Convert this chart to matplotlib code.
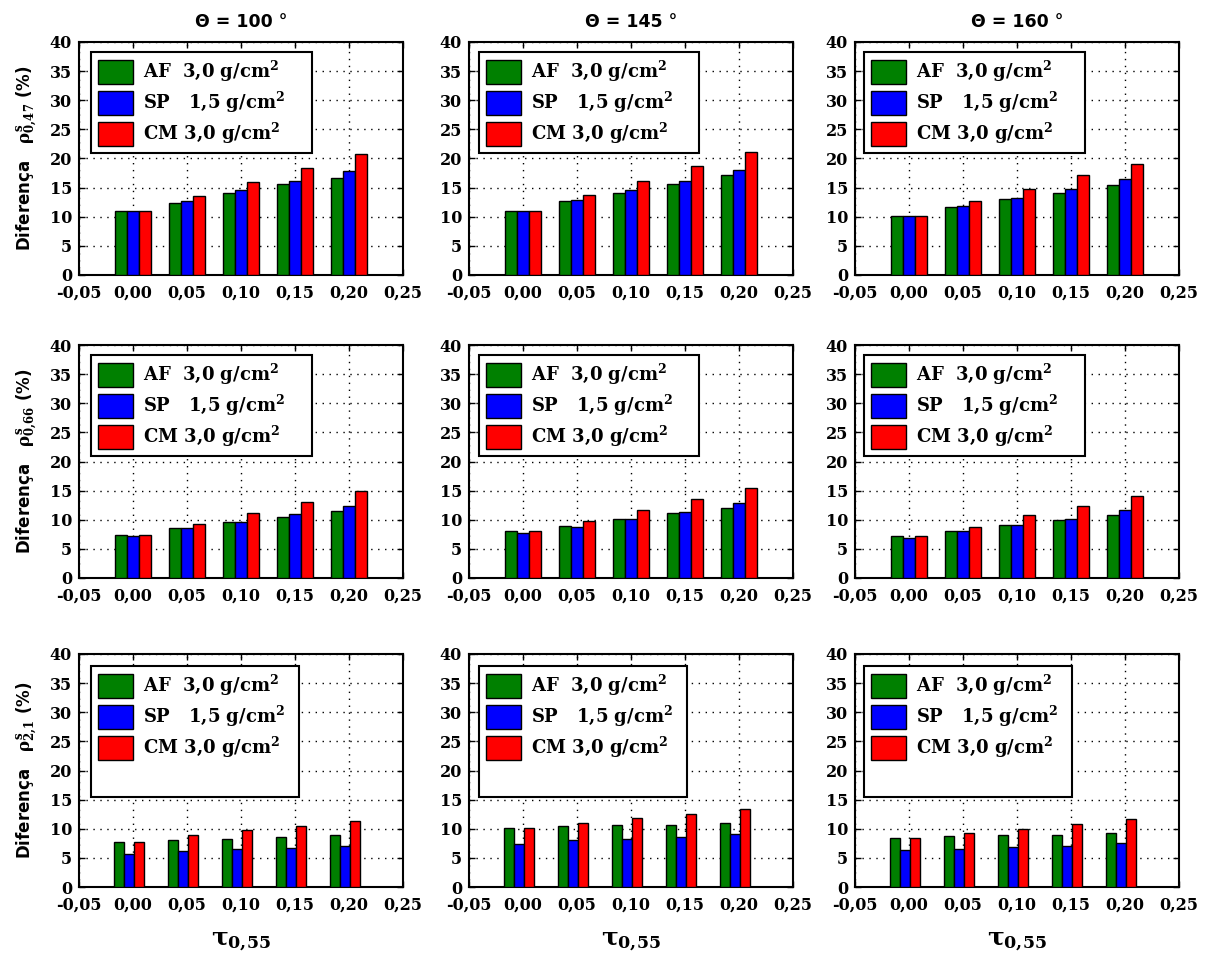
import numpy as np
import matplotlib
matplotlib.use("Agg")
import matplotlib.pyplot as plt
import matplotlib.patches as mpatches

plt.rcParams['mathtext.fontset'] = 'custom'
plt.rcParams['mathtext.rm'] = 'DejaVu Serif:bold'
plt.rcParams['mathtext.it'] = 'DejaVu Serif:bold'
plt.rcParams['mathtext.bf'] = 'DejaVu Serif:bold'

# tau values (x axis)
tau = [0.00, 0.05, 0.10, 0.15, 0.20]
angles = ['100', '145', '160']
bands = ['0{,}47', '0{,}66', '2{,}1']
series_labels = ['AF  3,0 g/cm$^{2}$', 'SP   1,5 g/cm$^{2}$', 'CM 3,0 g/cm$^{2}$']
colors = ['#008000', '#0000ff', '#ff0000']

# rows: band 0,47 / 0,66 / 2,1 ; cols: 100, 145, 160 deg ; [AF, SP, CM]
af_047 = [[11.0, 12.4, 14.0, 15.6, 16.7], [11.0, 12.7, 14.0, 15.7, 17.1], [10.2, 11.6, 13.0, 14.0, 15.5]]
sp_047 = [[11.0, 12.7, 14.6, 16.2, 17.8], [11.0, 12.9, 14.6, 16.2, 18.1], [10.2, 11.9, 13.3, 14.8, 16.5]]
cm_047 = [[11.0, 13.5, 15.9, 18.3, 20.7], [11.0, 13.8, 16.2, 18.7, 21.1], [10.2, 12.7, 14.8, 17.1, 19.1]]

af_066 = [[7.4, 8.5, 9.6, 10.4, 11.5], [8.0, 9.0, 10.1, 11.2, 12.0], [7.2, 8.1, 9.1, 10.0, 10.8]]
sp_066 = [[7.2, 8.5, 9.6, 11.0, 12.3], [7.7, 8.7, 10.1, 11.4, 12.8], [6.9, 8.1, 9.1, 10.2, 11.6]]
cm_066 = [[7.4, 9.3, 11.2, 13.1, 15.0], [8.0, 9.8, 11.7, 13.6, 15.4], [7.2, 8.8, 10.8, 12.4, 14.0]]

af_21 = [[7.8, 8.1, 8.3, 8.6, 8.9], [10.1, 10.4, 10.7, 10.7, 11.0], [8.4, 8.7, 9.0, 9.0, 9.2]]
sp_21 = [[5.6, 6.1, 6.5, 6.7, 7.0], [7.4, 8.0, 8.3, 8.6, 9.1], [6.3, 6.6, 6.8, 7.1, 7.6]]
cm_21 = [[7.8, 8.9, 9.7, 10.5, 11.3], [10.1, 11.0, 11.8, 12.6, 13.4], [8.4, 9.2, 10.0, 10.8, 11.6]]

data = [[af_047, sp_047, cm_047],
        [af_066, sp_066, cm_066],
        [af_21, sp_21, cm_21]]

W, H = 1209, 958
fig = plt.figure(figsize=(W / 100, H / 100), dpi=100)

col_left = [79, 469, 855]
row_top = [42, 345, 654]
ax_w, ax_h = 324, 233

leg_x = [0.037, 0.030, 0.028]

for r in range(3):
    for c in range(3):
        ax = fig.add_axes([col_left[c] / W, 1 - (row_top[r] + ax_h) / H, ax_w / W, ax_h / H])
        x = np.array(tau)
        if r < 2:
            bw = 0.0112
            shift = 0.0
        else:
            bw = 0.0093
            shift = -0.004
        bars = []
        for k in range(3):
            b = ax.bar(x + shift + (k - 1) * bw, data[r][k][c], width=bw, color=colors[k],
                       edgecolor='black', linewidth=1.0, label=series_labels[k], zorder=3)
            bars.append(b)

        ax.set_xlim(-0.05, 0.25)
        ax.set_ylim(0, 40)
        ax.set_xticks(np.arange(-0.05, 0.26, 0.05))
        ax.set_xticklabels(['-0,05', '0,00', '0,05', '0,10', '0,15', '0,20', '0,25'])
        ax.set_yticks(range(0, 41, 5))
        ax.tick_params(direction='in', length=4, width=1, top=True, right=True, pad=5)
        ax.tick_params(axis='x', pad=7)
        for lbl in ax.get_xticklabels() + ax.get_yticklabels():
            lbl.set_family('DejaVu Serif')
            lbl.set_fontweight('bold')
            lbl.set_fontsize(11.5)
        ax.grid(True, color='black', linewidth=1.0, linestyle=(0, (1, 4)))
        ax.set_axisbelow(True)
        for s in ax.spines.values():
            s.set_linewidth(1.5)

        handles = list(bars)
        labels = list(series_labels)
        if r < 2:
            bbox = (leg_x[c], 0.0, 0.681, 0.958)
        else:
            bbox = (leg_x[c], 0.0, 0.642, 0.95)
            handles.append(mpatches.Patch(facecolor='none', edgecolor='none'))
            labels.append(' ')
        leg = ax.legend(handles, labels, loc='upper left', bbox_to_anchor=bbox, mode='expand',
                        borderaxespad=0, prop={'family': 'DejaVu Serif', 'weight': 'bold', 'size': 13},
                        fancybox=False, framealpha=1, edgecolor='black',
                        handlelength=1.94, handleheight=1.67, handletextpad=0.55,
                        labelspacing=0.33, borderpad=0.38)
        leg.get_frame().set_linewidth(1.5)
        leg.set_zorder(5)

        if r == 0:
            ax.set_title('Θ = ' + angles[c] + ' °', fontsize=12.5, fontweight='bold',
                         family='DejaVu Sans', pad=11)
        if c == 0:
            ax.set_ylabel('Diferença   $\\rho^{s}_{' + bands[r] + '}$ (%)', fontsize=12,
                          fontweight='bold', family='DejaVu Sans', labelpad=8)
        if r == 2:
            ax.set_xlabel('$\\tau_{0{,}55}$', fontsize=18, labelpad=11)

fig.savefig('out.png', dpi=100)
